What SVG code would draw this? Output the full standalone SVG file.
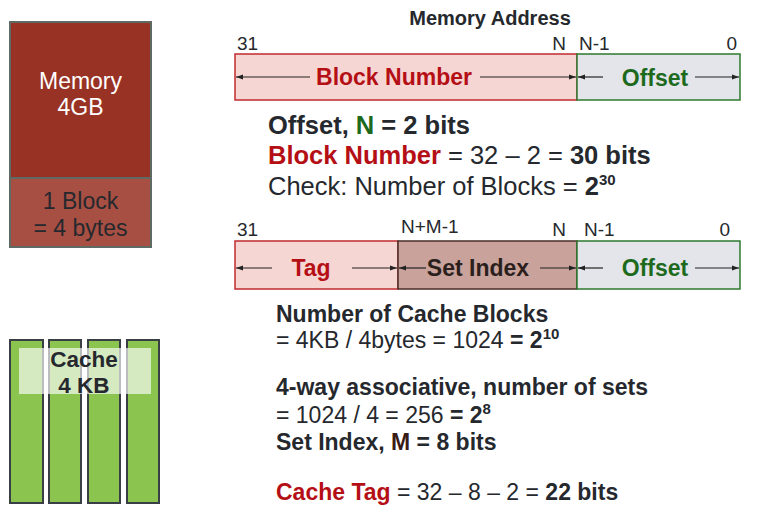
<svg xmlns="http://www.w3.org/2000/svg" width="758" height="524" viewBox="0 0 758 524">
  <defs>
    <marker id="ah" viewBox="0 0 10 10" refX="10" refY="5" markerWidth="7" markerHeight="7" orient="auto-start-reverse" markerUnits="userSpaceOnUse">
      <path d="M0,1.5 L10,5 L0,8.5 Z" fill="#222"/>
    </marker>
    <style>
      text { font-family: "Liberation Sans", Arial, sans-serif; fill: #25282d; }
      .b { font-weight: bold; }
      .red { fill: #b50f16; }
      .grn { fill: #1d6a1d; }
      .brn { fill: #3a1c17; }
      .lbl { font-size: 19px; }
      .fld { font-size: 23px; font-weight: bold; text-anchor: middle; }
      .txt { font-size: 25.5px; }
      .txt2 { font-size: 23px; }
      .sup { font-size: 15px; }
      .arr { stroke: #222; stroke-width: 1.2; fill: none; marker-start: url(#ah); marker-end: url(#ah); }
      .bar { fill: #8bc44f; stroke: #3a3f45; stroke-width: 2; }
    </style>
  </defs>

  <!-- Main memory block -->
  <g id="memory">
    <rect x="10" y="22" width="141" height="156" fill="#983224" stroke="#5e6a63" stroke-width="2"/>
    <rect x="10" y="178" width="141" height="69" fill="#a84f43" stroke="#5e6a63" stroke-width="2"/>
    <text x="80.5" y="89" text-anchor="middle" style="font-size:23px;fill:#fff">Memory</text>
    <text x="80.5" y="115" text-anchor="middle" style="font-size:23px;fill:#fff">4GB</text>
    <text x="80.5" y="209" text-anchor="middle" style="font-size:23px">1 Block</text>
    <text x="80.5" y="236" text-anchor="middle" style="font-size:23px">= 4 bytes</text>
  </g>

  <!-- Cache: four ways -->
  <g id="cache">
    <rect class="bar" x="10" y="340" width="33" height="163"/>
    <rect class="bar" x="49" y="340" width="32" height="163"/>
    <rect class="bar" x="88" y="340" width="32" height="163"/>
    <rect class="bar" x="127" y="340" width="32" height="163"/>
    <rect x="19" y="348" width="132" height="46" fill="#ffffff" fill-opacity="0.65"/>
    <text x="84" y="367" text-anchor="middle" class="b" style="font-size:22.5px">Cache</text>
    <text x="84" y="393" text-anchor="middle" class="b" style="font-size:22.5px">4 KB</text>
  </g>

  <!-- Memory address fields -->
  <g id="address">
    <text x="490" y="25" text-anchor="middle" class="b" style="font-size:20px">Memory Address</text>
    <text x="237" y="50" class="lbl">31</text>
    <text x="566" y="50" class="lbl" text-anchor="end">N</text>
    <text x="579" y="50" class="lbl">N-1</text>
    <text x="737" y="50" class="lbl" text-anchor="end">0</text>
    <rect x="235" y="54" width="342" height="46" fill="#f5d6d3" stroke="#c02a2f" stroke-width="1.5"/>
    <rect x="577" y="54" width="163" height="46" fill="#e3e5ea" stroke="#2d7a2e" stroke-width="1.5"/>
    <text x="394" y="85" class="fld red">Block Number</text>
    <text x="655" y="86" class="fld grn">Offset</text>
  </g>

  <!-- Cache address fields -->
  <g id="cache-address">
    <text x="237" y="236" class="lbl">31</text>
    <text x="401" y="233" class="lbl">N+M-1</text>
    <text x="566" y="236" class="lbl" text-anchor="end">N</text>
    <text x="584" y="236" class="lbl">N-1</text>
    <text x="730" y="236" class="lbl" text-anchor="end">0</text>
    <rect x="235" y="241" width="163" height="48" fill="#f5d6d3" stroke="#c02a2f" stroke-width="1.5"/>
    <rect x="398" y="241" width="179" height="48" fill="#c8a29b" stroke="#4a2c27" stroke-width="1.5"/>
    <rect x="577" y="241" width="163" height="48" fill="#e3e5ea" stroke="#2d7a2e" stroke-width="1.5"/>
    <text x="311" y="276" class="fld red">Tag</text>
    <text x="478" y="276" class="fld" style="fill:#2b1f1d">Set Index</text>
    <text x="655" y="276" class="fld grn">Offset</text>
  </g>

  <!-- Field extent arrows -->
  <g id="connectors">
    <line class="arr" x1="236" y1="77" x2="310" y2="77" style="marker-end:none"/>
    <line class="arr" x1="480" y1="77" x2="576" y2="77" style="marker-start:none"/>
    <line class="arr" x1="578" y1="77" x2="603" y2="77" style="marker-end:none"/>
    <line class="arr" x1="695" y1="77" x2="739" y2="77" style="marker-start:none"/>
    <line class="arr" x1="236" y1="268" x2="272" y2="268" style="marker-end:none"/>
    <line class="arr" x1="352" y1="268" x2="397" y2="268" style="marker-start:none"/>
    <line class="arr" x1="399" y1="268" x2="426" y2="268" style="marker-end:none"/>
    <line class="arr" x1="540" y1="268" x2="576" y2="268" style="marker-start:none"/>
    <line class="arr" x1="578" y1="268" x2="603" y2="268" style="marker-end:none"/>
    <line class="arr" x1="695" y1="268" x2="739" y2="268" style="marker-start:none"/>
  </g>

  <!-- Derivation notes -->
  <g id="notes-address">
    <text x="268" y="134" class="txt b">Offset, <tspan class="grn">N</tspan> = 2 bits</text>
    <text x="268" y="164" class="txt"><tspan class="b red">Block Number</tspan> = 32 – 2 = <tspan class="b">30 bits</tspan></text>
    <text x="268" y="195" class="txt">Check: Number of Blocks = <tspan class="b">2<tspan dy="-10" class="sup">30</tspan></tspan></text>
  </g>
  <g id="notes-cache">
    <text x="276" y="322" class="txt2 b">Number of Cache Blocks</text>
    <text x="276" y="348" class="txt2">= 4KB / 4bytes = 1024 <tspan class="b">= 2<tspan dy="-9" class="sup">10</tspan></tspan></text>
    <text x="276" y="395" class="txt2 b">4-way associative, number of sets</text>
    <text x="276" y="423" class="txt2">= 1024 / 4 = 256 <tspan class="b">= 2<tspan dy="-9" class="sup">8</tspan></tspan></text>
    <text x="276" y="450" class="txt2 b">Set Index, <tspan class="brn">M</tspan> = 8 bits</text>
    <text x="276" y="500" class="txt2"><tspan class="b red">Cache Tag</tspan> = 32 – 8 – 2 = <tspan class="b">22 bits</tspan></text>
  </g>
</svg>
